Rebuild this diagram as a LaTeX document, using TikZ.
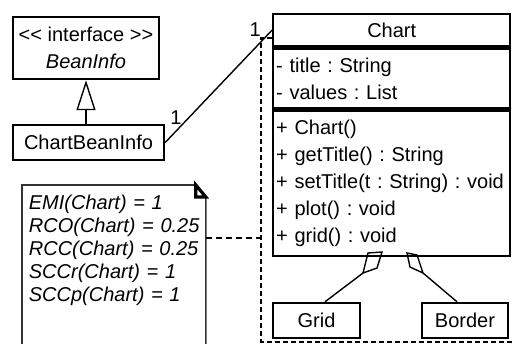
\documentclass[tikz,border=0pt]{standalone}
\usepackage{fontspec}
\setmainfont{Liberation Sans}
\usetikzlibrary{arrows.meta}
\frenchspacing
\begin{document}
\begin{tikzpicture}[x=0.5pt, y=-0.5pt,
    clsbox/.style={draw, line width=1.2pt, inner sep=1.5pt, font=\fontsize{10}{13.5}\selectfont},
    members/.style={clsbox, anchor=north west, text width=115.5pt, align=left, minimum width=118.5pt},
    assoc/.style={line width=0.7pt},
    gen/.style={assoc, -{Triangle[open, length=15pt, width=9.5pt]}},
    pkg/.style={line width=1pt, dash pattern=on 2.5pt off 1.5pt},
    notelink/.style={line width=0.6pt, dash pattern=on 3pt off 2pt},
    notebox/.style={line width=0.8pt, draw=black!80},
    mult/.style={font=\fontsize{10}{12}\selectfont, inner sep=1pt}]
    \useasboundingbox (0,0) rectangle (512,343);
    \clip (0,0) rectangle (512,343);

    % package boundary
    \draw[pkg] (272,38) -- (261,38) -- (261,341.5) -- (520,341.5);

    % classes
    \node[clsbox, minimum width=73pt, minimum height=31pt, align=center] (iface) at (86,48)
        {\mbox{<}\mbox{<} interface \mbox{>}\mbox{>}\\\itshape BeanInfo};
    \node[clsbox, minimum width=75.5pt, minimum height=17.5pt] (cbi) at (88.5,142.5) {ChartBeanInfo};
    \node[clsbox, anchor=north west, minimum width=118.5pt, minimum height=16pt] (chart) at (272,13) {Chart};
    \node[members, minimum height=30pt] (chartattr) at (chart.south west)
        {- title : String\\- values : List};
    \node[members, minimum height=72.5pt] (chartops) at (chartattr.south west)
        {+ Chart()\\+ getTitle() : String\\+ setTitle(t : String) : void\\+ plot() : void\\+ grid() : void};
    \node[clsbox, minimum width=43.5pt, minimum height=17.5pt] (grid) at (316.5,320.5) {Grid};
    \node[clsbox, minimum width=43pt, minimum height=17.5pt] (border) at (465,320.5) {Border};

    % note
    \node[anchor=north west, text width=85pt, inner xsep=3.25pt, inner ysep=4.7pt, align=left,
        font=\fontsize{10}{11.5}\selectfont\itshape] (note) at (22,185)
        {\mbox{EMI(Chart) = 1}\\\mbox{RCO(Chart) = 0.25}\\\mbox{RCC(Chart) = 0.25}\\
         \mbox{SCCr(Chart) = 1}\\\mbox{SCCp(Chart) = 1}};
    \draw[notebox] (note.north west) ++(0,180) -- (note.north west) -- ([xshift=-5pt]note.north east)
        -- ([yshift=-6pt]note.north east) -- ++(0,170);
    \draw[line width=1.6pt, fill=white] ([xshift=-5pt]note.north east) -- ++(0,12)
        -- ([yshift=-6pt]note.north east) -- cycle;
    \coordinate (pkgedge) at (261,238);
    \draw[notelink] (note.east |- pkgedge) -- (pkgedge);

    % relations
    \draw[gen] (cbi.north -| iface.south) -- (iface.south);
    \draw[assoc] (cbi.east) -- node[mult, pos=0.1, anchor=south, yshift=2pt] {1}
        node[mult, pos=0.92, anchor=south east] {1} (chart.west);

    \coordinate (gd) at (363,273);
    \coordinate (bd) at (423,273);
    \draw[assoc] (gd) -- (368,253) -- (382,252) -- (377,268) -- cycle;
    \draw[assoc] (bd) -- (410,267) -- (407,253) -- (417,255) -- cycle;
    \draw[assoc] ([xshift=4.25pt]grid.north) -- (gd);
    \draw[assoc] ([xshift=-4pt]border.north) -- (bd);
\end{tikzpicture}
\end{document}
